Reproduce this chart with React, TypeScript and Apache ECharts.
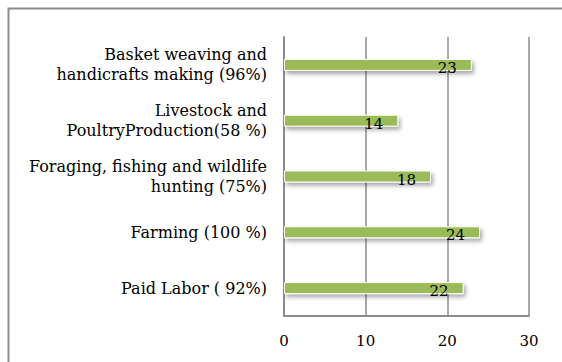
import React, { useEffect, useRef } from "react";
import * as echarts from "echarts";

const categories = [
  "Paid Labor ( 92%)",
  "Farming (100 %)",
  "Foraging, fishing and wildlife\nhunting (75%)",
  "Livestock and\nPoultryProduction(58 %)",
  "Basket weaving and\nhandicrafts making (96%)",
];
const values = [22, 24, 18, 14, 23];
const xTicks = [0, 10, 20, 30];

const FONT = "'DejaVu Serif', Georgia, serif";

export default function App() {
  const ref = useRef<HTMLDivElement>(null);
  useEffect(() => {
    if (!ref.current) return;
    const chart = echarts.init(ref.current, null, { renderer: "svg" });
    chart.setOption({
      animation: false,
      backgroundColor: "#ffffff",
      graphic: [
        {
          type: "rect",
          shape: { x: 8.5, y: 8.5, width: 620, height: 420 },
          style: { fill: "none", stroke: "#8c8c8c", lineWidth: 2 },
          silent: true,
        },
      ],
      grid: { left: 284, right: 33, top: 37, bottom: 46, containLabel: false },
      xAxis: {
        type: "value",
        min: xTicks[0],
        max: xTicks[xTicks.length - 1],
        interval: 10,
        axisLine: { show: true, lineStyle: { color: "#8c8c8c", width: 2 } },
        axisTick: { show: false },
        splitLine: { show: true, lineStyle: { color: "#8c8c8c", width: 1.5 } },
        axisLabel: {
          color: "#000",
          fontFamily: FONT,
          fontSize: 15,
          margin: 17,
        },
      },
      yAxis: {
        type: "category",
        data: categories,
        axisLine: { show: true, lineStyle: { color: "#8c8c8c", width: 2 } },
        axisTick: { show: false },
        axisLabel: {
          color: "#000",
          fontFamily: FONT,
          fontSize: 16,
          lineHeight: 20,
          margin: 17,
          align: "right",
        },
      },
      series: [
        {
          type: "bar",
          data: values,
          barWidth: 12,
          itemStyle: {
            color: "#9bbb59",
            borderColor: "#ffffff",
            borderWidth: 1,
            shadowBlur: 4,
            shadowOffsetX: 2,
            shadowOffsetY: 3,
            shadowColor: "rgba(0,0,0,0.35)",
          },
          label: {
            show: true,
            position: "insideRight",
            distance: 15,
            offset: [0, 3],
            color: "#000",
            fontFamily: FONT,
            fontSize: 15,
          },
        },
      ],
    });
    return () => chart.dispose();
  }, []);
  return (
    <div
      ref={ref}
      style={{ position: "absolute", left: 0, top: 0, width: 562, height: 362 }}
    />
  );
}
